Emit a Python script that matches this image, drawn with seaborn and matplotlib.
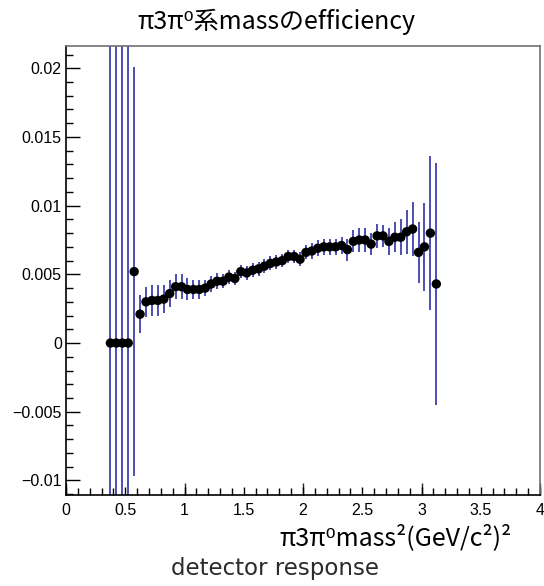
import numpy as np
import pandas as pd
import matplotlib
matplotlib.use("Agg")
import matplotlib.pyplot as plt
import seaborn as sns
from matplotlib.ticker import MultipleLocator, FixedLocator, FixedFormatter

sns.set_style("white")
plt.rcParams['font.family'] = ['Liberation Sans', 'DejaVu Sans']

# ---- data (bin centres of width-0.05 bins, efficiency, error) ----
mass_centres = [0.375, 0.425, 0.475, 0.525, 0.575, 0.625, 0.675, 0.725, 0.775, 0.825,
                0.875, 0.925, 0.975, 1.025, 1.075, 1.125, 1.175, 1.225, 1.275, 1.325,
                1.375, 1.425, 1.475, 1.525, 1.575, 1.625, 1.675, 1.725, 1.775, 1.825,
                1.875, 1.925, 1.975, 2.025, 2.075, 2.125, 2.175, 2.225, 2.275, 2.325,
                2.375, 2.425, 2.475, 2.525, 2.575, 2.625, 2.675, 2.725, 2.775, 2.825,
                2.875, 2.925, 2.975, 3.025, 3.075, 3.125]
efficiency = [0.0, 0.0, 0.0, 0.0, 0.0052, 0.0021, 0.0030, 0.0031, 0.0031, 0.0032,
              0.0036, 0.0041, 0.0041, 0.0039, 0.0039, 0.0039, 0.0040, 0.0043, 0.0045, 0.0045,
              0.0048, 0.0047, 0.0052, 0.0051, 0.0053, 0.0054, 0.0056, 0.0058, 0.0059, 0.0060,
              0.0063, 0.0063, 0.0061, 0.0066, 0.0067, 0.0069, 0.0070, 0.0070, 0.0070, 0.0071,
              0.0068, 0.0074, 0.0075, 0.0075, 0.0072, 0.0078, 0.0078, 0.0074, 0.0077, 0.0077,
              0.0081, 0.0083, 0.0066, 0.0070, 0.0080, 0.0043]
eff_error = [0.03, 0.03, 0.03, 0.03, 0.0149, 0.0014, 0.0011, 0.0011, 0.0011, 0.0010,
             0.0010, 0.0009, 0.0009, 0.0008, 0.0007, 0.0007, 0.0006, 0.0006, 0.0006, 0.0005,
             0.0005, 0.0005, 0.0005, 0.0005, 0.0005, 0.0005, 0.0005, 0.0005, 0.0005, 0.0005,
             0.0005, 0.0005, 0.0005, 0.0005, 0.0006, 0.0006, 0.0006, 0.0006, 0.0006, 0.0006,
             0.0008, 0.0008, 0.0009, 0.0009, 0.0008, 0.0009, 0.0008, 0.0010, 0.0011, 0.0013,
             0.0016, 0.0020, 0.0022, 0.0032, 0.0056, 0.0088]

x_ticks = [0, 0.5, 1, 1.5, 2, 2.5, 3, 3.5, 4]
x_tick_labels = ["0", "0.5", "1", "1.5", "2", "2.5", "3", "3.5", "4"]
y_ticks = [-0.01, -0.005, 0, 0.005, 0.01, 0.015, 0.02]
y_tick_labels = ["\u22120.01", "\u22120.005", "0", "0.005", "0.01", "0.015", "0.02"]

title_text = "π3π⁰系massのefficiency"
xlabel_text = "π3π⁰mass²(GeV/c²)²"
footer_text = "detector response"

df = pd.DataFrame({"mass": mass_centres, "eff": efficiency, "err": eff_error})

fig = plt.figure(figsize=(5.44, 5.86), dpi=100)
ax = fig.add_axes([66/544, 1-495/586, (540-66)/544, (495-46)/586])

ax.errorbar(df["mass"], df["eff"], yerr=df["err"], fmt="none",
            ecolor="#1e1ea0", elinewidth=1.1, capsize=0, zorder=2)
sns.scatterplot(data=df, x="mass", y="eff", ax=ax, color="black", s=46,
                edgecolor="none", linewidth=0, zorder=3, legend=False)

ax.set_xlim(0, 4)
ax.set_ylim(-0.01106, 0.02162)
ax.set_xlabel("")
ax.set_ylabel("")

ax.xaxis.set_major_locator(FixedLocator(x_ticks))
ax.xaxis.set_major_formatter(FixedFormatter(x_tick_labels))
ax.xaxis.set_minor_locator(MultipleLocator(0.1))
ax.yaxis.set_major_locator(FixedLocator(y_ticks))
ax.yaxis.set_major_formatter(FixedFormatter(y_tick_labels))
ax.yaxis.set_minor_locator(MultipleLocator(0.001))

ax.tick_params(axis="both", which="both", direction="in", colors="black",
               bottom=True, left=True, top=False, right=False, labelsize=11.5)
ax.tick_params(axis="x", which="major", length=6, width=1, pad=6)
ax.tick_params(axis="x", which="minor", length=4.8, width=1)
ax.tick_params(axis="y", which="major", length=10, width=1, pad=3)
ax.tick_params(axis="y", which="minor", length=5, width=1)

# longer ticks at integer values (ROOT-style three-level ticks)
sec = ax.secondary_xaxis("bottom")
sec.set_xticks([0, 1, 2, 3, 4])
sec.tick_params(direction="in", length=9, width=1, bottom=True, labelbottom=False)
sec.spines["bottom"].set_visible(False)

for s in ["left", "bottom"]:
    ax.spines[s].set_color("black")
    ax.spines[s].set_linewidth(1.2)
for s in ["top", "right"]:
    ax.spines[s].set_color("#707070")
    ax.spines[s].set_linewidth(1.2)

fig.text(276/544, 1-22/586, title_text, ha="center", va="center", fontsize=18,
         family=["Noto Sans CJK JP", "DejaVu Sans"], color="black")
fig.text(512/544, 1-538/586, xlabel_text, ha="right", va="center", fontsize=18,
         family=["Noto Sans CJK JP", "DejaVu Sans"], color="black")
fig.text(275/544, 1-569/586, footer_text, ha="center", va="center", fontsize=16.5,
         family=["DejaVu Sans"], color="#2b2b2b")

fig.savefig("out.png", dpi=100)
